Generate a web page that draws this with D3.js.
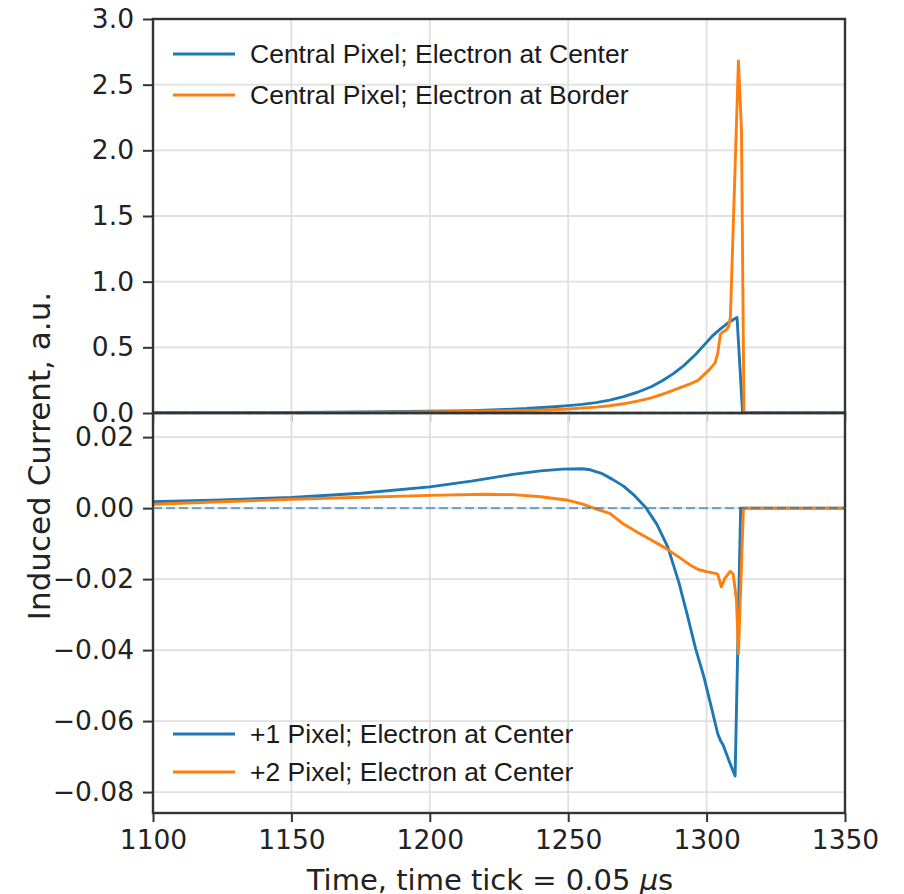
<!DOCTYPE html>
<html>
<head>
<meta charset="utf-8">
<script src="https://cdn.jsdelivr.net/npm/d3@7"></script>
<style>
  body { margin: 0; background: #fff; }
  svg { display: block; }
</style>
</head>
<body>
<svg id="chart" width="904" height="894"></svg>
<script>
// time axis ticks
const xTicks = [1100, 1150, 1200, 1250, 1300, 1350];
const topTicks = [0, 0.5, 1.0, 1.5, 2.0, 2.5, 3.0];
const botTicks = [-0.08, -0.06, -0.04, -0.02, 0, 0.02];

// top panel: central pixel
const centerTime = [1100, 1125, 1150, 1175, 1200, 1215, 1225, 1235, 1245, 1250, 1255, 1260, 1265, 1270, 1275, 1280, 1284, 1288, 1292, 1296, 1299, 1302, 1305, 1308, 1310, 1311, 1313, 1314, 1350];
const centerVal  = [0.002, 0.003, 0.005, 0.008, 0.013, 0.018, 0.025, 0.034, 0.048, 0.056, 0.066, 0.079, 0.098, 0.125, 0.158, 0.2, 0.245, 0.3, 0.365, 0.445, 0.515, 0.585, 0.64, 0.69, 0.715, 0.727, 0, 0, 0];

const borderTime = [1100, 1150, 1200, 1225, 1240, 1250, 1260, 1265, 1270, 1275, 1280, 1285, 1290, 1295, 1297, 1299, 1301, 1303, 1304, 1305, 1306, 1307, 1308, 1308.6, 1311.5, 1312.6, 1313.5, 1350];
const borderVal  = [0.001, 0.003, 0.008, 0.016, 0.022, 0.03, 0.045, 0.055, 0.07, 0.09, 0.115, 0.15, 0.19, 0.23, 0.25, 0.29, 0.33, 0.38, 0.45, 0.6, 0.62, 0.63, 0.66, 0.73, 2.68, 2.15, 0, 0];

// bottom panel: neighbouring pixels
const plus1Time = [1100, 1125, 1150, 1175, 1200, 1215, 1230, 1240, 1248, 1255, 1258, 1262, 1266, 1270, 1274, 1278, 1282, 1286, 1290, 1293, 1296, 1299, 1302, 1304, 1305, 1306, 1308, 1310.3, 1312.3, 1350];
const plus1Val  = [0.0018, 0.0023, 0.003, 0.0042, 0.006, 0.0076, 0.0095, 0.0105, 0.011, 0.0111, 0.0108, 0.0098, 0.0081, 0.0062, 0.0035, 0.0002, -0.0045, -0.011, -0.021, -0.03, -0.0395, -0.0475, -0.057, -0.0635, -0.0655, -0.0668, -0.071, -0.0755, 0, 0];

const plus2Time = [1100, 1150, 1200, 1220, 1230, 1240, 1250, 1255, 1260, 1265, 1270, 1275, 1280, 1285, 1290, 1294, 1297, 1300, 1303, 1304, 1305.3, 1306.6, 1308.5, 1309.6, 1310.8, 1311.5, 1313.3, 1350];
const plus2Val  = [0.0011, 0.0025, 0.0036, 0.0039, 0.0038, 0.0032, 0.0022, 0.0012, -0.0002, -0.0015, -0.0045, -0.0068, -0.009, -0.0112, -0.0138, -0.016, -0.0173, -0.0179, -0.0184, -0.0186, -0.0222, -0.0198, -0.0178, -0.0185, -0.026, -0.041, 0, 0];

const topLegend = ["Central Pixel; Electron at Center", "Central Pixel; Electron at Border"];
const botLegend = ["+1 Pixel; Electron at Center", "+2 Pixel; Electron at Center"];

const blue = "#1f77b4", orange = "#ff7f0e";
const L = 153, R = 845, T = 19, MID = 413, B = 813;

const svg = d3.select("#chart");
const x = d3.scaleLinear().domain([1100, 1350]).range([L, R]);
const yTop = d3.scaleLinear().domain([0, 3]).range([MID, T]);
const yBot = d3.scaleLinear().domain([-0.0859, 0.0268]).range([B, MID]);

const defs = svg.append("defs");
defs.append("clipPath").attr("id", "clipTop").append("rect")
  .attr("x", L).attr("y", T).attr("width", R - L).attr("height", MID - T);
defs.append("clipPath").attr("id", "clipBot").append("rect")
  .attr("x", L).attr("y", MID).attr("width", R - L).attr("height", B - MID);

function panel(y, ticks, fmt, clip, series, legend, legendY, top, bottom, showX) {
  const g = svg.append("g");
  // grid
  g.selectAll(".gx").data(xTicks).join("line")
    .attr("x1", d => x(d)).attr("x2", d => x(d)).attr("y1", top).attr("y2", bottom)
    .attr("stroke", "#e0e0e0").attr("stroke-width", 1.8);
  g.selectAll(".gy").data(ticks).join("line")
    .attr("x1", L).attr("x2", R).attr("y1", d => y(d)).attr("y2", d => y(d))
    .attr("stroke", "#e0e0e0").attr("stroke-width", 1.8);

  // series
  const lg = g.append("g").attr("clip-path", `url(#${clip})`);
  series.forEach(s => {
    const pts = s.t.map((t, i) => [t, s.v[i]]);
    lg.append("path").datum(pts)
      .attr("d", d3.line().x(d => x(d[0])).y(d => y(d[1])))
      .attr("fill", "none").attr("stroke", s.c).attr("stroke-width", 2.9)
      .attr("stroke-linejoin", "round");
  });

  // y axis
  const ya = g.append("g").attr("transform", `translate(${L},0)`)
    .call(d3.axisLeft(y).tickValues(ticks).tickFormat(fmt).tickSize(10).tickPadding(9));
  ya.select(".domain").remove();
  ya.selectAll("line").attr("stroke", "#333").attr("stroke-width", 2);
  ya.selectAll("text").attr("font-family", "DejaVu Sans").attr("font-size", 26.5).attr("fill", "#222");

  // x axis
  const xa = g.append("g").attr("transform", `translate(0,${bottom})`)
    .call(d3.axisBottom(x).tickValues(xTicks).tickFormat(showX ? d3.format("d") : "").tickSize(9).tickPadding(8));
  xa.select(".domain").remove();
  xa.selectAll("line").attr("stroke", showX ? "#333" : "#aaa").attr("stroke-width", 2);
  xa.selectAll("text").attr("font-family", "DejaVu Sans").attr("font-size", 26.5).attr("fill", "#222");

  // frame
  g.append("rect").attr("x", L).attr("y", top).attr("width", R - L).attr("height", bottom - top)
    .attr("fill", "none").attr("stroke", "#333").attr("stroke-width", 2.4);

  // zero line
  g.append("line").attr("x1", L).attr("x2", R).attr("y1", y(0)).attr("y2", y(0))
    .attr("stroke", blue).attr("stroke-opacity", 0.6).attr("stroke-width", 2.4)
    .attr("stroke-dasharray", "9,4");

  // legend
  const leg = g.selectAll(".leg").data(legend).join("g")
    .attr("transform", (d, i) => `translate(0,${legendY[i]})`);
  leg.append("line").attr("x1", 173).attr("x2", 235)
    .attr("stroke", (d, i) => series[i].c).attr("stroke-width", 3.2);
  leg.append("text").attr("x", 250).attr("dy", "0.35em")
    .attr("font-family", "Liberation Sans").attr("font-size", 26.5).attr("fill", "#1a1a1a")
    .text(d => d);
}

panel(yTop, topTicks, d3.format(".1f"), "clipTop",
  [{ t: centerTime, v: centerVal, c: blue }, { t: borderTime, v: borderVal, c: orange }],
  topLegend, [54, 95], T, MID, false);

panel(yBot, botTicks, d3.format(".2f"), "clipBot",
  [{ t: plus1Time, v: plus1Val, c: blue }, { t: plus2Time, v: plus2Val, c: orange }],
  botLegend, [734, 772], MID, B, true);

// axis labels
svg.append("text")
  .attr("transform", "translate(50,456) rotate(-90)")
  .attr("text-anchor", "middle")
  .attr("font-family", "DejaVu Sans").attr("font-size", 31).attr("fill", "#222")
  .text("Induced Current, a.u.");

const xl = svg.append("text")
  .attr("x", 490).attr("y", 890).attr("text-anchor", "middle")
  .attr("font-family", "DejaVu Sans").attr("font-size", 29).attr("fill", "#222");
xl.append("tspan").text("Time, time tick = 0.05 ");
xl.append("tspan").attr("font-style", "italic").text("\u03bc");
xl.append("tspan").text("s");
</script>
</body>
</html>
